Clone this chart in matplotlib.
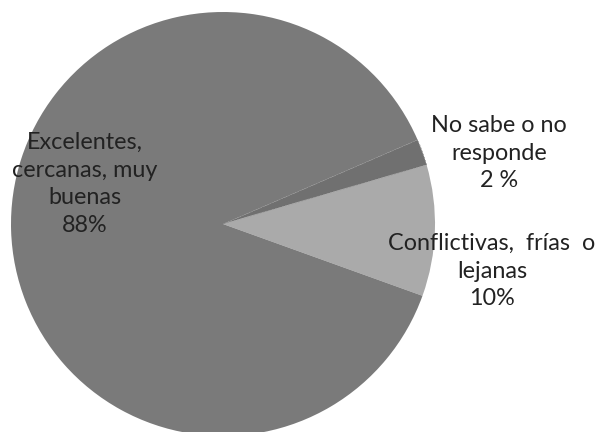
import matplotlib
matplotlib.use("Agg")
import matplotlib.pyplot as plt

# Survey answers, in drawing order (counter-clockwise from the lower right)
categories = ["Conflictivas,  frías  o\nlejanas", "No sabe o no\nresponde", "Excelentes,\ncercanas, muy\nbuenas"]
values = [10, 2, 88]
value_labels = ["10%", "2 %", "88%"]
colors = ["#aaaaaa", "#707070", "#7a7a7a"]

W, H, DPI = 599, 432, 100
fig = plt.figure(figsize=(W / DPI, H / DPI), dpi=DPI)
fig.patch.set_facecolor("white")
ax = fig.add_axes([0, 0, 1, 1])

# pie geometry in pixels
cx, cy, r = 223, 224, 212
start = -360 * values[0] / sum(values) / 2 - 1.8

wedges, _ = ax.pie(values, colors=colors, startangle=start, counterclock=True,
                   radius=1, center=(0, 0),
                   wedgeprops=dict(linewidth=0))
# faint light divider between the two darker slices
wedges[1].set_edgecolor("#9a9a9a")
wedges[1].set_linewidth(0.6)
wedges[1].set_linestyle((0, (2, 2)))

ax.set_xlim(-cx / r, (W - cx) / r)
ax.set_ylim(-(H - cy) / r, cy / r)
ax.set_aspect("equal")
ax.axis("off")

def px(x, y):
    return (x - cx) / r, (cy - y) / r

font = dict(family=["Lato", "DejaVu Sans"], fontsize=16.8, color="#222222",
            ha="center", va="center", linespacing=1.4)

label_pos = [(492, 271), (499, 153), (85, 184)]
for cat, vl, (x, y) in zip(categories, value_labels, label_pos):
    ax.text(*px(x, y), f"{cat}\n{vl}", **font)

fig.savefig("out.png", dpi=DPI, facecolor="white")
